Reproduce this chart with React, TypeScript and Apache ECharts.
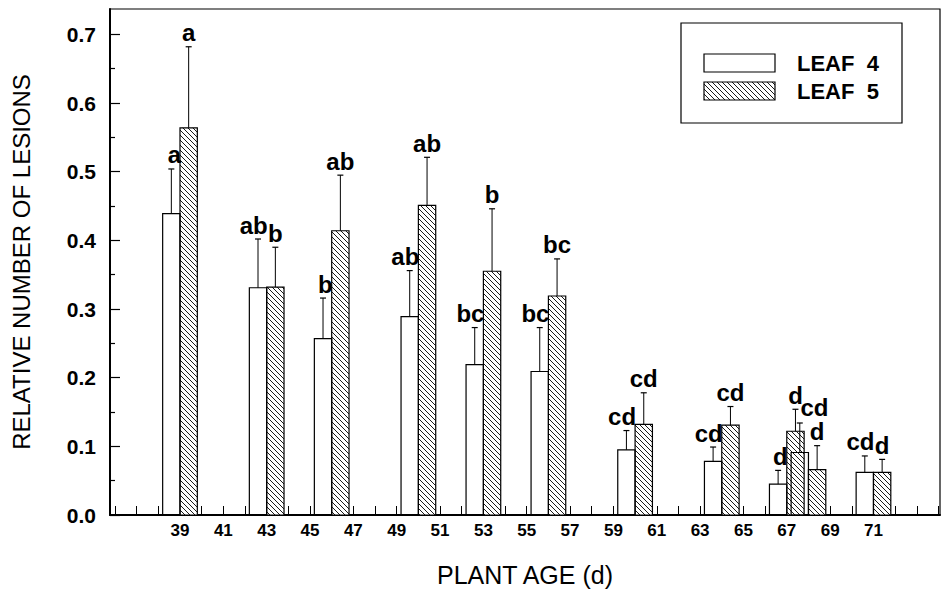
import React, { useEffect, useRef } from 'react';
import * as echarts from 'echarts';

// ---- data ----
const plantAge = [39, 43, 46, 50, 53, 56, 60, 64, 67, 68, 71];
const leaf4 = [0.439, 0.331, 0.257, 0.289, 0.219, 0.209, 0.095, 0.078, 0.045, 0.091, 0.062];
const leaf4ErrTop = [0.504, 0.402, 0.316, 0.356, 0.273, 0.273, 0.123, 0.099, 0.065, 0.134, 0.086];
const leaf4Letters = ['a', 'ab', 'b', 'ab', 'bc', 'bc', 'cd', 'cd', 'd', 'cd', 'cd'];
const leaf5 = [0.564, 0.332, 0.414, 0.451, 0.355, 0.319, 0.132, 0.131, 0.122, 0.066, 0.062];
const leaf5ErrTop = [0.682, 0.39, 0.495, 0.521, 0.446, 0.373, 0.178, 0.158, 0.154, 0.101, 0.081];
const leaf5Letters = ['a', 'b', 'ab', 'ab', 'b', 'bc', 'cd', 'cd', 'd', 'd', 'd'];
const yTickValues = [0, 0.1, 0.2, 0.3, 0.4, 0.5, 0.6, 0.7];
const yMinorTickValues = [0.05, 0.15, 0.25, 0.35, 0.45, 0.55, 0.65];
const xLabelValues = [39, 41, 43, 45, 47, 49, 51, 53, 55, 57, 59, 61, 63, 65, 67, 69, 71];
const xTickValues = [36, 37, 38, 39, 40, 41, 42, 43, 44, 45, 46, 47, 48, 49, 50, 51, 52, 53, 54, 55,
  56, 57, 58, 59, 60, 61, 62, 63, 64, 65, 66, 67, 68, 69, 70, 71, 72, 73, 74];

// ---- layout / style ----
const FONT = '"Liberation Sans", Arial, Helvetica, sans-serif';
const BAR_W = 0.8; // days
const HATCH_STEP = 5;
const LEAF4_LABEL_SHIFT: Record<number, number[]> = { 9: [19, -2] };

function hatch(x0: number, y0: number, x1: number, y1: number, step: number) {
  const segs: number[][] = [];
  const kStart = Math.ceil((y0 - x1) / step) * step;
  for (let k = kStart; k <= y1 - x0; k += step) {
    const xa = Math.max(x0, y0 - k);
    const xb = Math.min(x1, y1 - k);
    if (xb - xa > 0.3) segs.push([xa, xa + k, xb, xb + k]);
  }
  return segs;
}

function hatchLines(x0: number, y0: number, x1: number, y1: number) {
  return hatch(x0, y0, x1, y1, HATCH_STEP).map((s) => ({
    type: 'line',
    shape: { x1: s[0], y1: s[1], x2: s[2], y2: s[3] },
    style: { stroke: '#000', lineWidth: 0.9 },
    silent: true,
  }));
}

function makeSeries(name: string, vals: number[], errs: number[], letters: string[], hatched: boolean) {
  return {
    type: 'custom',
    name,
    clip: false,
    z: hatched ? 2 : 3,
    data: plantAge.map((d, i) => [d, vals[i], errs[i]]),
    encode: { x: 0, y: [1, 2] },
    renderItem: (params: any, api: any) => {
      const i = params.dataIndex;
      const d = api.value(0);
      const v = api.value(1);
      const e = api.value(2);
      const xs = hatched ? d : d - BAR_W;
      const xe = xs + BAR_W;
      const pA = api.coord([xs, 0]);
      const pB = api.coord([xe, v]);
      const pE = api.coord([(xs + xe) / 2, e]);
      const x0 = pA[0], x1 = pB[0], y0 = pB[1], y1 = pA[1];
      const cx = (x0 + x1) / 2;
      const children: any[] = [];
      if (hatched) {
        children.push({ type: 'rect', shape: { x: x0, y: y0, width: x1 - x0, height: y1 - y0 }, style: { fill: '#fff' } });
        children.push(...hatchLines(x0, y0, x1, y1));
      }
      children.push({
        type: 'rect',
        shape: { x: x0, y: y0, width: x1 - x0, height: y1 - y0 },
        style: { fill: 'none', stroke: '#000', lineWidth: 1.2 },
      });
      children.push({ type: 'line', shape: { x1: cx, y1: y0, x2: cx, y2: pE[1] }, style: { stroke: '#000', lineWidth: 1 } });
      children.push({ type: 'line', shape: { x1: cx - 3, y1: pE[1], x2: cx + 3, y2: pE[1] }, style: { stroke: '#000', lineWidth: 1.2 } });
      const shift = (!hatched && LEAF4_LABEL_SHIFT[i]) || [0, 0];
      const tx = hatched ? cx : x1 + 1 + shift[0];
      children.push({
        type: 'text',
        x: tx,
        y: pE[1] - 2 + shift[1],
        style: {
          text: letters[i],
          font: `bold 24px ${FONT}`,
          fill: '#000',
          align: hatched ? 'center' : 'right',
          verticalAlign: 'bottom',
        },
      });
      return { type: 'group', children };
    },
  };
}

function legendGraphic() {
  const bx = 681, by = 23, bw = 221, bh = 100;
  const sx = 704, sw = 71, sh = 18;
  const s1y = 54, s2y = 82;
  const els: any[] = [
    { type: 'rect', shape: { x: bx, y: by, width: bw, height: bh }, style: { fill: '#fff', stroke: '#000', lineWidth: 1.2 } },
    { type: 'rect', shape: { x: sx, y: s1y, width: sw, height: sh }, style: { fill: '#fff', stroke: '#000', lineWidth: 1.2 } },
    { type: 'rect', shape: { x: sx, y: s2y, width: sw, height: sh }, style: { fill: '#fff' } },
    ...hatchLines(sx, s2y, sx + sw, s2y + sh),
    { type: 'rect', shape: { x: sx, y: s2y, width: sw, height: sh }, style: { fill: 'none', stroke: '#000', lineWidth: 1.2 } },
    { type: 'text', x: 797, y: s1y + sh / 2, style: { text: 'LEAF  4', font: `bold 22px ${FONT}`, fill: '#000', verticalAlign: 'middle' } },
    { type: 'text', x: 797, y: s2y + sh / 2, style: { text: 'LEAF  5', font: `bold 22px ${FONT}`, fill: '#000', verticalAlign: 'middle' } },
  ];
  return { type: 'group', z: 10, children: els };
}

export default function App() {
  const ref = useRef<HTMLDivElement>(null);
  useEffect(() => {
    const chart = echarts.init(ref.current!, null, { renderer: 'svg' });
    const yMax = 0.737;
    const option: any = {
      animation: false,
      backgroundColor: '#fff',
      grid: { left: 110, right: 2, top: 9, bottom: 74.5, show: true, borderColor: '#000', borderWidth: 1.2, containLabel: false },
      xAxis: {
        type: 'value',
        min: 35.77,
        max: 74.07,
        name: 'PLANT AGE (d)',
        nameLocation: 'middle',
        nameGap: 47,
        nameTextStyle: { fontFamily: FONT, fontSize: 25, color: '#000' },
        axisLine: { show: true, lineStyle: { color: '#000', width: 2 } },
        axisTick: { show: true, inside: true, length: 9, customValues: xTickValues, lineStyle: { color: '#000', width: 1 } },
        axisLabel: { show: true, customValues: xLabelValues, fontFamily: FONT, fontWeight: 'bold', fontSize: 17, color: '#000', margin: 7 },
        splitLine: { show: false },
      },
      yAxis: [
        {
          type: 'value',
          min: 0,
          max: yMax,
          name: 'RELATIVE NUMBER OF LESIONS',
          nameLocation: 'middle',
          nameGap: 77,
          nameTextStyle: { fontFamily: FONT, fontSize: 24, color: '#000' },
          axisLine: { show: true, lineStyle: { color: '#000', width: 2 } },
          axisTick: { show: true, inside: true, length: 10, customValues: yTickValues, lineStyle: { color: '#000', width: 1.2 } },
          axisLabel: {
            show: true,
            customValues: yTickValues,
            formatter: (v: number) => v.toFixed(1),
            fontFamily: FONT,
            fontWeight: 'bold',
            fontSize: 21,
            color: '#000',
            margin: 14,
          },
          splitLine: { show: false },
        },
        {
          type: 'value',
          min: 0,
          max: yMax,
          position: 'left',
          offset: 0,
          axisLine: { show: false },
          axisTick: { show: true, inside: true, length: 5, customValues: yMinorTickValues, lineStyle: { color: '#000', width: 1.2 } },
          axisLabel: { show: false },
          splitLine: { show: false },
        },
      ],
      series: [
        makeSeries('LEAF 5', leaf5, leaf5ErrTop, leaf5Letters, true),
        makeSeries('LEAF 4', leaf4, leaf4ErrTop, leaf4Letters, false),
      ],
      graphic: [legendGraphic()],
    };
    chart.setOption(option);
    return () => chart.dispose();
  }, []);
  return <div ref={ref} style={{ position: 'fixed', left: 0, top: 0, width: 942, height: 592, background: '#fff' }} />;
}
